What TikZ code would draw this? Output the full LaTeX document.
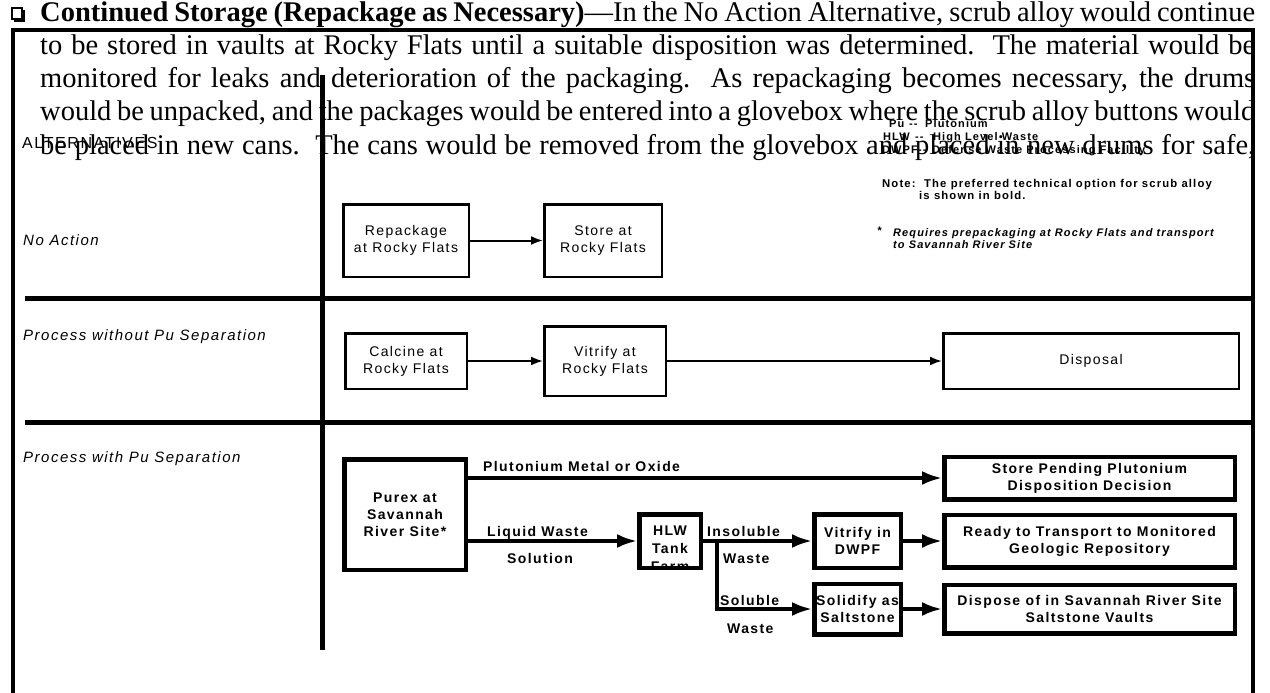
\documentclass[tikz,border=0pt]{standalone}
\usepackage{fontspec}
\setmainfont{Liberation Serif}
\newfontfamily\dgm[LetterSpace=10]{Liberation Sans}
\usetikzlibrary{arrows.meta}
\begin{document}
\begin{tikzpicture}[x=1pt,y=-1pt,
  lbl/.style={inner sep=0pt, anchor=base west},
  para/.style={lbl, font=\fontsize{28.5}{33}\selectfont},
  rowlbl/.style={lbl, font=\dgm\itshape\fontsize{15}{18}\selectfont},
  thinbox/.style={draw, line width=2.5pt, align=center, inner sep=0pt, font=\dgm\fontsize{14}{17}\selectfont},
  boldbox/.style={draw, line width=4.5pt, align=center, inner sep=0pt, font=\dgm\bfseries\fontsize{14}{17}\selectfont},
  flowlbl/.style={lbl, font=\dgm\bfseries\fontsize{14}{17}\selectfont},
  thinarrow/.style={line width=2pt, -{Latex[length=12pt,width=9pt]}},
  thickarrow/.style={line width=3.5pt, -{Latex[length=20pt,width=14pt]}},
  divider/.style={line width=5pt},
  frameline/.style={line width=4pt},
  legend/.style={lbl, font=\dgm\bfseries\fontsize{11}{13}\selectfont},
  notelbl/.style={lbl, font=\dgm\bfseries\fontsize{11.3}{13}\selectfont},
  starlbl/.style={lbl, font=\dgm\bfseries\itshape\fontsize{11}{13}\selectfont}
]
\useasboundingbox (0,0) rectangle (1270,693);

% ---- page paragraph ----
\draw[line width=1.2pt] (12,8) rectangle (22,19);
\draw[line width=2.2pt] (14,20.5) -- (23.5,20.5) -- (23.5,10);
\node[para] (l1) at (40,22) {\makebox[1215pt][s]{\textbf{Continued Storage (Repackage as Necessary)}---In the No Action Alternative, scrub alloy would continue}};
\node[para] (l2) at (40,55) {\makebox[1215pt][s]{to be stored in vaults at Rocky Flats until a suitable disposition was determined.\ \ The material would be}};
\node[para] (l3) at (40,88) {\makebox[1215pt][s]{monitored for leaks and deterioration of the packaging.\ \ As repackaging becomes necessary, the drums}};
\node[para] (l4) at (40,121) {\makebox[1215pt][s]{would be unpacked, and the packages would be entered into a glovebox where the scrub alloy buttons would}};
\node[para] (l5) at (40,154) {\makebox[1215pt][s]{be placed in new cans.\ \ The cans would be removed from the glovebox and placed in new drums for safe,}};

% ---- frame and dividers ----
\draw[frameline] (13,695) -- (13,30) -- (1253,30) -- (1253,695);
\draw[divider] (25,298) -- (1253,298);
\draw[divider] (25,422) -- (1253,422);
\draw[divider] (322,75) -- (322,650);

\node[lbl, font=\dgm\fontsize{16}{19}\selectfont] (alt) at (22,148) {ALTERNATIVES};

% ---- legend ----
\node[legend] (puA) at (889,128) {Pu};
\node[legend] (puD) at (909,128) {--};
\node[legend] (puT) at (925,128) {Plutonium};
\node[legend] (hlwA) at (883,140) {HLW};
\node[legend] (hlwD) at (915,140) {--};
\node[legend] (hlwT) at (933,140) {High Level Waste};
\node[legend] (dwA) at (882,153) {DWPF};
\node[legend] (dwD) at (918,153) {--};
\node[legend] (dwT) at (932,153) {Defense Waste Processing Facility};
\node[notelbl] (note1) at (882,187) {Note:\ \ The preferred technical option for scrub alloy};
\node[notelbl] (note2) at (919,199) {is shown in bold.};
\node[starlbl] (star) at (877,234) {*};
\node[starlbl] (req1) at (893,236) {Requires prepackaging at Rocky Flats and transport};
\node[starlbl] (req2) at (893,248) {to Savannah River Site};

% ---- row labels ----
\node[rowlbl] (r1) at (23,245) {No Action};
\node[rowlbl] (r2) at (23,340) {Process without Pu Separation};
\node[rowlbl] (r3) at (23,462) {Process with Pu Separation};

% ---- row 1 ----
\node[thinbox, minimum width=125.5pt, minimum height=72.5pt] (rep) at (406,240.5) {Repackage\\at Rocky Flats};
\node[thinbox, minimum width=117.5pt, minimum height=72.5pt] (sto) at (603,240.5) {Store at\\Rocky Flats};
\draw[thinarrow] (rep) -- (sto);

% ---- row 2 ----
\node[thinbox, minimum width=121.5pt, minimum height=55.5pt] (cal) at (406,361) {Calcine at\\Rocky Flats};
\node[thinbox, minimum width=121.5pt, minimum height=69.5pt] (vit) at (605,361) {Vitrify at\\Rocky Flats};
\node[thinbox, minimum width=295.5pt, minimum height=55.5pt] (dis) at (1091,361) {Disposal};
\draw[thinarrow] (cal) -- (vit);
\draw[thinarrow] (vit) -- (dis);

% ---- row 3 ----
\node[boldbox, minimum width=121.5pt, minimum height=110.5pt] (pur) at (405,514.5) {Purex at\\Savannah\\River Site*};
\node[boldbox, minimum width=290.5pt, minimum height=42.5pt] (spd) at (1089.5,478) {Store Pending Plutonium\\Disposition Decision};
\begin{scope}
  \clip (639.5,514.5) rectangle (700.5,566);
  \node[inner sep=0pt, align=center, font=\dgm\bfseries\fontsize{14}{18}\selectfont] (hlwtxt) at (670,549) {HLW\\Tank\\Farm};
\end{scope}
\node[boldbox, minimum width=61.5pt, minimum height=53.5pt] (hlw) at (670,541) {};
\node[boldbox, minimum width=86.5pt, minimum height=53.5pt] (vdw) at (857.5,541) {Vitrify in\\DWPF};
\node[boldbox, minimum width=86.5pt, minimum height=50.5pt] (sal) at (857.5,609) {Solidify as\\Saltstone};
\node[boldbox, minimum width=290.5pt, minimum height=52.5pt] (rdy) at (1089.5,541) {Ready to Transport to Monitored\\Geologic Repository};
\node[boldbox, minimum width=290.5pt, minimum height=48.5pt] (dso) at (1089.5,609) {Dispose of in Savannah River Site\\Saltstone Vaults};

\draw[thickarrow] (pur.east |- spd.west) -- (spd.west);
\draw[thickarrow] (pur.east |- hlw.west) -- (hlw.west);
\draw[thickarrow] (hlw) -- (vdw);
\draw[thickarrow] ([xshift=14pt]hlw.east) |- (sal.west);
\draw[thickarrow] (vdw) -- (rdy);
\draw[thickarrow] (sal) -- (dso);

\node[flowlbl] (pmo) at (483,471) {Plutonium Metal or Oxide};
\node[flowlbl] (lw1) at (487,536) {Liquid Waste};
\node[flowlbl] (lw2) at (507,563) {Solution};
\node[flowlbl] (iw1) at (707,536) {Insoluble};
\node[flowlbl] (iw2) at (723,563) {Waste};
\node[flowlbl] (sw1) at (720,605) {Soluble};
\node[flowlbl] (sw2) at (727,633) {Waste};
\end{tikzpicture}
\end{document}
